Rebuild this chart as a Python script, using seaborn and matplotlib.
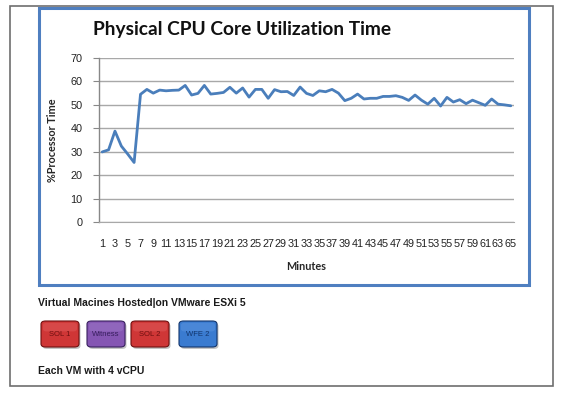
import matplotlib
matplotlib.use("Agg")
import matplotlib.pyplot as plt
import seaborn as sns
import numpy as np
import pandas as pd
from matplotlib.patches import Rectangle, FancyBboxPatch

# ---- data ----
minutes = list(range(1, 66))
processor_time = [
    29.9, 30.8, 38.8, 32.4, 29.0, 25.4, 54.5, 56.6, 55.0, 56.3,
    56.0, 56.2, 56.3, 58.3, 54.2, 54.9, 58.3, 54.6, 54.9, 55.3,
    57.5, 55.0, 57.2, 53.3, 56.6, 56.6, 52.8, 56.5, 55.6, 55.7,
    54.0, 57.6, 54.9, 54.0, 56.0, 55.6, 56.6, 55.0, 51.8, 52.8,
    54.6, 52.5, 52.8, 52.8, 53.6, 53.6, 53.9, 53.2, 51.9, 54.2,
    52.0, 50.3, 52.8, 49.5, 53.2, 51.2, 52.2, 50.5, 52.0, 50.9,
    49.8, 52.5, 50.3, 50.0, 49.6,
]
x_tick_labels = [str(m) for m in range(1, 66, 2)]
y_ticks = [0, 10, 20, 30, 40, 50, 60, 70]
vm_names = ["SOL 1", "Witness", "SOL 2", "WFE 2"]
vm_colors = ["#cf3636", "#8556b3", "#cf3636", "#3a7bd0"]
vm_top_colors = ["#e86a6a", "#a585cf", "#e86a6a", "#6aa0e6"]
vm_text_colors = ["#6e1010", "#38205e", "#6e1010", "#12356c"]

W, H = 576, 394
sns.set_style("white")
plt.rcParams["font.family"] = ["Lato", "DejaVu Sans"]

fig = plt.figure(figsize=(W / 100, H / 100), dpi=100)
fig.patch.set_facecolor("white")

def fx(px):
    return px / W

def fy(py):
    return 1 - py / H

# plot area
ax = fig.add_axes([fx(99), fy(222), fx(514) - fx(99), fy(58) - fy(222)])
df = pd.DataFrame({"Minutes": minutes, "Processor": processor_time})
sns.lineplot(data=df, x="Minutes", y="Processor", ax=ax, color="#4a7ebb",
             linewidth=2.0)
ax.set_xlim(0.5, 65.5)
ax.set_ylim(0, 70)
ax.set_yticks(y_ticks)
ax.set_yticklabels([str(v) for v in y_ticks], fontsize=7.8, color="#222222",
                   family=["Liberation Sans", "DejaVu Sans"])
ax.set_xticks(list(range(1, 66, 2)))
ax.set_xticklabels(x_tick_labels, fontsize=7.8, color="#222222",
                   family=["Liberation Sans", "DejaVu Sans"])
ax.tick_params(axis="x", length=0, pad=12)
ax.tick_params(axis="y", length=4, width=0.8, color="#888888", pad=8,
               direction="out", left=True)
ax.yaxis.grid(True, color="#a8a8a8", linewidth=1.0)
ax.xaxis.grid(False)
for s in ["top", "right"]:
    ax.spines[s].set_visible(False)
ax.spines["left"].set_color("#888888")
ax.spines["bottom"].set_color("#a8a8a8")
ax.spines["left"].set_linewidth(1.0)
ax.set_xlabel("Minutes", fontsize=7.8, fontweight="bold", labelpad=9)
ax.set_ylabel("%Processor Time", fontsize=7.8, fontweight="bold", labelpad=9)
ax.set_facecolor("none")

# title
fig.text(fx(242), fy(30), "Physical CPU Core Utilization Time", ha="center",
         va="center", fontsize=13.8, fontweight="bold", color="#111111")

# borders
fig.add_artist(Rectangle((fx(10), fy(386)), fx(553) - fx(10), fy(6) - fy(386),
                         transform=fig.transFigure, fill=False,
                         edgecolor="#6e6e6e", linewidth=1.2))
fig.add_artist(Rectangle((fx(39), fy(285)), fx(529) - fx(39), fy(8) - fy(285),
                         transform=fig.transFigure, fill=False,
                         edgecolor="#4f7fc0", linewidth=2.2))

# texts below
fig.text(fx(38), fy(303), "Virtual Macines Hosted|on VMware ESXi 5",
         ha="left", va="center", fontsize=7.5, fontweight="bold",
         color="#1a1a1a", family=["Liberation Sans", "DejaVu Sans"])
fig.text(fx(38), fy(371), "Each VM with 4 vCPU",
         ha="left", va="center", fontsize=7.5, fontweight="bold",
         color="#1a1a1a", family=["Liberation Sans", "DejaVu Sans"])

# VM boxes
box_x = [41, 87, 131, 179]
bw, bh = 38, 26
for name, x0, c, ctop, tc in zip(vm_names, box_x, vm_colors, vm_top_colors,
                                 vm_text_colors):
    shadow = FancyBboxPatch((fx(x0 + 1.5), fy(321 + bh + 2)), fx(bw), fy(0) - fy(bh),
                            boxstyle="round,pad=0,rounding_size=0.008",
                            transform=fig.transFigure, facecolor="#8a8a8a",
                            edgecolor="none", alpha=0.5, zorder=1)
    fig.add_artist(shadow)
    box = FancyBboxPatch((fx(x0), fy(321 + bh)), fx(bw), fy(0) - fy(bh),
                         boxstyle="round,pad=0,rounding_size=0.008",
                         transform=fig.transFigure, facecolor=c,
                         edgecolor=tc, linewidth=0.8, zorder=1.1)
    fig.add_artist(box)
    hl = FancyBboxPatch((fx(x0 + 2), fy(321 + bh * 0.4)), fx(bw - 4),
                        fy(0) - fy(bh * 0.33),
                        boxstyle="round,pad=0,rounding_size=0.006",
                        transform=fig.transFigure, facecolor=ctop,
                        edgecolor="none", alpha=0.35, zorder=1.2)
    fig.add_artist(hl)
    fig.text(fx(x0 + bw / 2), fy(321 + bh / 2), name, ha="center", va="center",
             fontsize=5.5, color=tc, family=["Liberation Sans", "DejaVu Sans"],
             zorder=5)

fig.savefig("out.png", dpi=100, facecolor="white")
